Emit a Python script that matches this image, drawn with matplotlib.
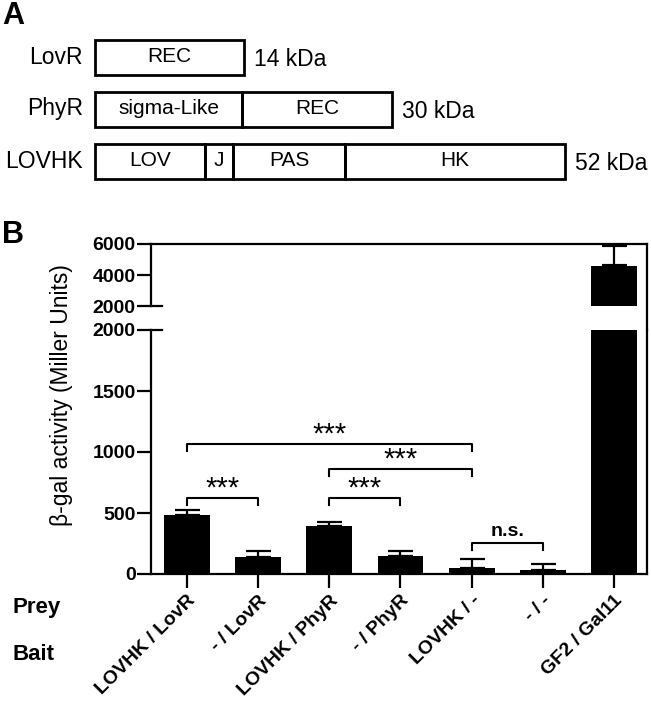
import matplotlib
matplotlib.use("Agg")
import matplotlib.pyplot as plt
from matplotlib.patches import Rectangle
import numpy as np

plt.rcParams['font.family'] = ['Liberation Sans', 'DejaVu Sans']

# panel A: domain maps (start, end, name) on a common length scale
proteins = ['LovR', 'PhyR', 'LOVHK']
masses = ['14 kDa', '30 kDa', '52 kDa']
domains = [
    [(0, 149, 'REC')],
    [(0, 147, 'sigma-Like'), (147, 297, 'REC')],
    [(0, 110, 'LOV'), (110, 138, 'J'), (138, 250, 'PAS'), (250, 470, 'HK')],
]

# panel B: beta-gal activity
labels = ['LOVHK / LovR', '- / LovR', 'LOVHK / PhyR', '- / PhyR',
          'LOVHK / -', '- / -', 'GF2 / Gal11']
values = [480, 142, 396, 150, 52, 33, 4580]
errors = [45, 47, 33, 41, 73, 49, 1355]
# (left bar, right bar, bracket height, text)
brackets = [(0, 1, 626, '***'), (2, 3, 626, '***'), (2, 4, 860, '***'),
            (0, 4, 1068, '***'), (4, 5, 254, 'n.s.')]

W, H = 651, 704
fig = plt.figure(figsize=(W / 100, H / 100), dpi=100)

# ---------- panel A ----------
axA = fig.add_axes([0, (H - 200) / H, 1, 200 / H])
axA.set_xlim(-95, W - 95)
axA.set_ylim(200, 0)
axA.axis('off')
row_y = [57, 109, 161]
box_h = 35
for prot, mass, doms, y in zip(proteins, masses, domains, row_y):
    for s, e, name in doms:
        axA.add_patch(Rectangle((s, y - box_h / 2), e - s, box_h, fill=False,
                                lw=2, ec='black'))
        axA.text((s + e) / 2, y, name, ha='center', va='center', fontsize=15)
    end = doms[-1][1]
    axA.text(-12, y, prot, ha='right', va='center', fontsize=16.5)
    axA.text(end + 10, y + 2, mass, ha='left', va='center', fontsize=16.5)

fig.text(2 / W, 1 - 1 / H, 'A', fontsize=22, fontweight='bold', va='top')
fig.text(2 / W, 1 - 220 / H, 'B', fontsize=22, fontweight='bold', va='top')

# ---------- panel B (broken axis) ----------
x = np.arange(len(labels))
bw = 0.646
left = 151 / W
width = 496 / W
ax_up = fig.add_axes([left, (H - 330) / H, width, 86 / H])
ax_lo = fig.add_axes([left, (H - 574) / H, width, 244 / H])

for ax in (ax_up, ax_lo):
    ax.set_xlim(-0.506, 6.464)
    for s in ax.spines.values():
        s.set_linewidth(1.6)
    ax.tick_params(axis='y', length=10, width=1.6, labelsize=14, pad=1)
    ax.tick_params(axis='x', length=10, width=1.6)

# lower part
vals = np.array(values)
errs = np.array(errors)
ax_lo.bar(x, np.minimum(vals, 2000), width=bw, color='black', zorder=2)
small = vals < 2000
ax_lo.errorbar(x[small], vals[small], yerr=[np.zeros(small.sum()), errs[small]],
               fmt='none', ecolor='black', elinewidth=1.6, capsize=9,
               capthick=1.6, zorder=1)
ax_lo.set_ylim(0, 2000)
ax_lo.set_yticks([0, 500, 1000, 1500, 2000])
ax_lo.spines['top'].set_visible(False)
ax_lo.set_xticks(x)
ax_lo.set_xticklabels(labels, rotation=45, ha='right', va='top',
                      rotation_mode='anchor', fontsize=14, fontweight='bold')
ax_lo.tick_params(axis='x', pad=3)
for t in ax_lo.get_yticklabels():
    t.set_fontweight('bold')

# upper part
big = ~small
ax_up.bar(x[big], vals[big] - 2000, bottom=2000, width=bw, color='black', zorder=2)
ax_up.errorbar(x[big], vals[big], yerr=[np.zeros(big.sum()), errs[big]],
               fmt='none', ecolor='black', elinewidth=1.6, capsize=9,
               capthick=3, zorder=1)
ax_up.set_ylim(452, 6000)
ax_up.set_yticks([2000, 4000, 6000])
ax_up.spines['bottom'].set_visible(False)
ax_up.spines['left'].set_bounds(2000, 6000)
ax_up.set_xticks([])
for t in ax_up.get_yticklabels():
    t.set_fontweight('bold')

# break marks crossing the left spine
for ax in (ax_up, ax_lo):
    ax.plot([0, 0.023], [2000, 2000], color='black', lw=1.6, clip_on=False,
            transform=ax.get_yaxis_transform())

# significance brackets
drop = 60
for i, j, yb, txt in brackets:
    ax_lo.plot([i, i, j, j], [yb - drop, yb, yb, yb - drop], color='black',
               lw=1.5)
    if txt == 'n.s.':
        ax_lo.text((i + j) / 2, yb + 25, txt, ha='center', va='bottom',
                   fontsize=14, fontweight='bold')
    else:
        ax_lo.text((i + j) / 2, yb - 40, txt, ha='center', va='bottom',
                   fontsize=21)

fig.text(62 / W, 1 - 395 / H, 'β-gal activity (Miller Units)',
         rotation=90, ha='center', va='center', fontsize=16.5)
fig.text(12 / W, 1 - 607 / H, 'Prey', fontsize=16, fontweight='bold',
         ha='left', va='center')
fig.text(12 / W, 1 - 655 / H, 'Bait', fontsize=16, fontweight='bold',
         ha='left', va='center')

fig.savefig('out.png', dpi=100)
